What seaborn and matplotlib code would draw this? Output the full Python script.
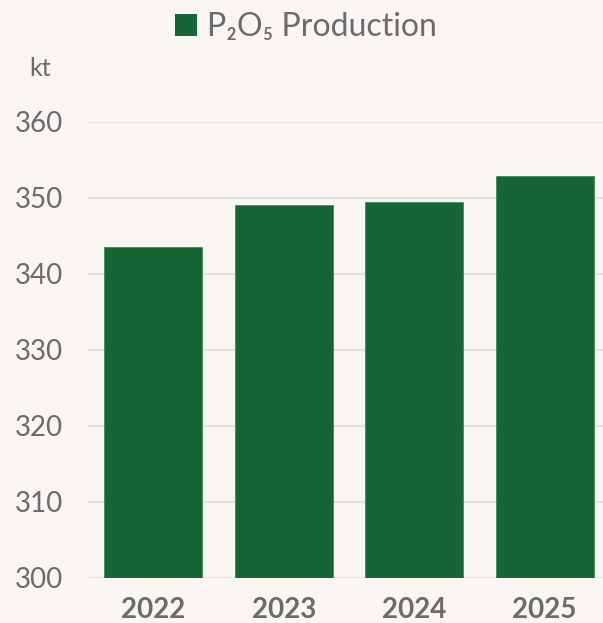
import pandas as pd
import matplotlib.pyplot as plt
import seaborn as sns
from matplotlib.patches import Patch

years = ["2022", "2023", "2024", "2025"]
production = [343.6, 349.1, 349.5, 352.9]
yticks = [300, 310, 320, 330, 340, 350, 360]

df = pd.DataFrame({"year": years, "production": production})

bg = "#f8f5f2"
green = "#166534"
grey = "#6b6b6b"

sns.set_style("white")
plt.rcParams["font.family"] = ["Lato", "DejaVu Sans"]

fig = plt.figure(figsize=(6.03, 6.23), dpi=100, facecolor=bg)
ax = fig.add_axes([88 / 603, 45 / 623, 515 / 603, 456 / 623])
ax.set_facecolor(bg)

sns.barplot(x="year", y="production", data=df, color=green, width=0.75,
            saturation=1, edgecolor="#3f8a5a", linewidth=0.6, ax=ax, zorder=3)

ax.set_ylim(300, 360)
ax.set_xlim(-0.5, 3.447)
ax.set_yticks(yticks)
ax.yaxis.grid(True, color="#e2e0de", linewidth=1.5, zorder=0)
ax.set_axisbelow(True)
for s in ax.spines.values():
    s.set_visible(False)
ax.tick_params(axis="y", length=0, pad=18, labelsize=20, labelcolor=grey)
ax.tick_params(axis="x", length=0, pad=14, labelsize=20, labelcolor=grey)
for lab in ax.get_xticklabels():
    lab.set_fontweight("bold")
ax.set_xlabel("")
ax.set_ylabel("")

fig.text(40 / 603, 1 - 68 / 623, "kt", fontsize=18, color=grey,
         ha="center", va="center")

handle = Patch(facecolor=green, edgecolor="none")
fig.legend([handle], ["P₂O₅ Production"], loc="center",
           bbox_to_anchor=(306 / 603, 1 - 27 / 623), frameon=False,
           fontsize=23, labelcolor=grey, handlelength=0.7, handleheight=0.7,
           handletextpad=0.3)

plt.savefig("out.png", dpi=100, facecolor=bg)
